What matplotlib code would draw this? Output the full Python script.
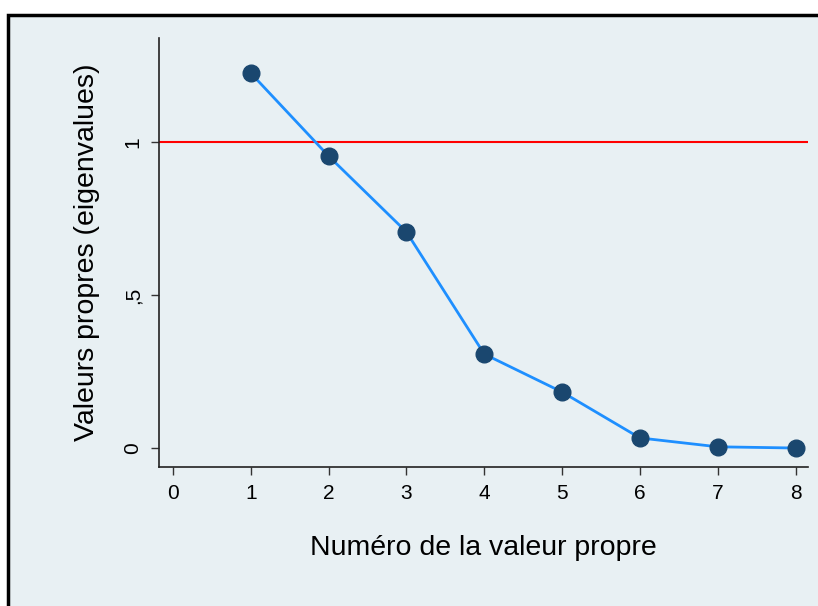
import matplotlib
matplotlib.use("Agg")
import matplotlib.pyplot as plt
from matplotlib.patches import Rectangle

plt.rcParams['font.family'] = ['Liberation Sans', 'DejaVu Sans']

# Valeurs propres
numeros = [1, 2, 3, 4, 5, 6, 7, 8]
valeurs_propres = [1.225, 0.954, 0.706, 0.307, 0.183, 0.033, 0.004, 0.0]
seuil = 1
xticks = [0, 1, 2, 3, 4, 5, 6, 7, 8]
yticks = [0, 0.5, 1]
ytick_labels = ['0', ',5', '1']

fond = '#E8F0F3'

fig = plt.figure(figsize=(8.18, 6.06), dpi=100, facecolor='white')

# Cadre noir autour du graphique (coupé à droite et en bas)
cadre = Rectangle((8 / 818, -0.2), 1.2, 0.2 + 1 - 15 / 606,
                  transform=fig.transFigure, facecolor=fond,
                  edgecolor='black', linewidth=2.5, zorder=0)
fig.add_artist(cadre)

ax = fig.add_axes([159 / 818, 1 - 467 / 606, (808 - 159) / 818, (467 - 38) / 606])
ax.set_facecolor('none')

ax.axhline(seuil, color='#FF0000', linewidth=1.5, zorder=2)
ax.plot(numeros, valeurs_propres, color='#1E8FFF', linewidth=2, zorder=3,
        marker='o', markersize=12, markerfacecolor='#1A476F',
        markeredgecolor='#1A476F')

ax.set_xlim(-0.18, 8.16)
ax.set_ylim(-0.062, 1.34)
ax.set_xticks(xticks)
ax.set_yticks(yticks)
ax.set_yticklabels(ytick_labels, rotation=90, va='center')

for s in ['top', 'right']:
    ax.spines[s].set_visible(False)
for s in ['left', 'bottom']:
    ax.spines[s].set_linewidth(1.2)
    ax.spines[s].set_color('#222222')

ax.tick_params(axis='both', direction='out', length=6, width=1,
               color='#333333', labelsize=15, labelcolor='black', pad=6)

ax.set_xlabel('Numéro de la valeur propre', fontsize=20.5, labelpad=23)
ax.set_ylabel('Valeurs propres (eigenvalues)', fontsize=20.5, labelpad=17)

fig.savefig('out.png', dpi=100, facecolor='white')
